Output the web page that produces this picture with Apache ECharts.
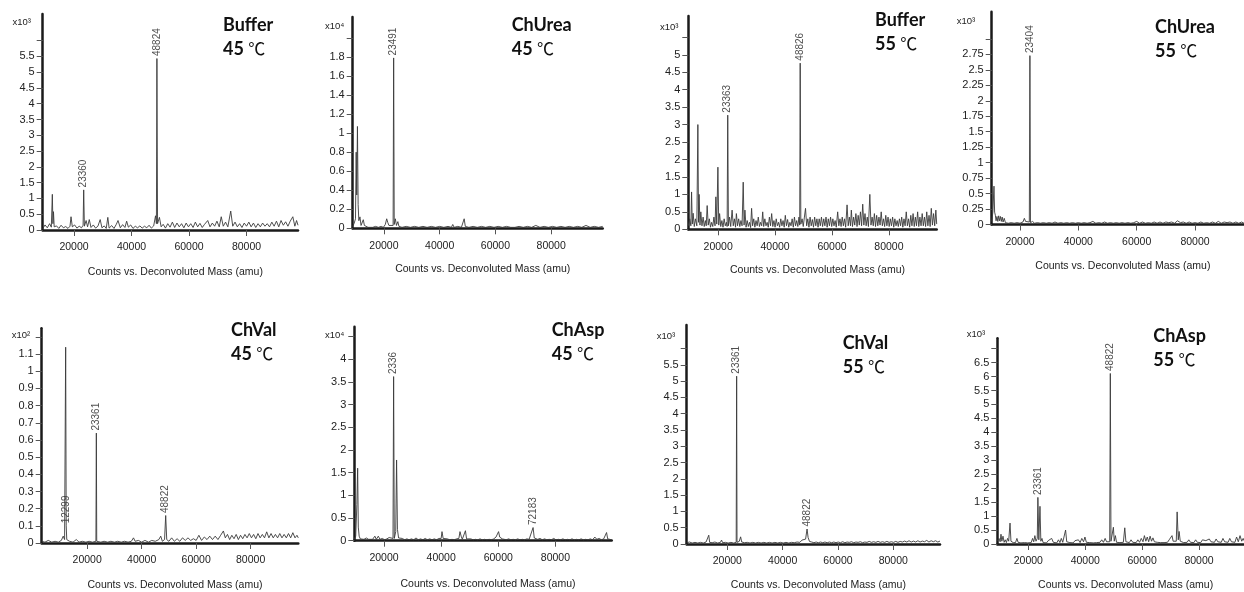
<!DOCTYPE html>
<html>
<head>
<meta charset="utf-8">
<script src="https://cdn.jsdelivr.net/npm/echarts@6/dist/echarts.min.js"></script>
<style>html,body{margin:0;padding:0;background:#fff}#c{width:1244px;height:592px}</style>
</head>
<body>
<div id="c"></div>
<script>
// ---------- DATA ----------
const panelNames = ['Buffer', 'ChUrea', 'Buffer', 'ChUrea', 'ChVal', 'ChAsp', 'ChVal', 'ChAsp'];
const panelTemps = ['45', '45', '55', '55', '45', '45', '55', '55'];
const tempUnit = '℃';
const scaleLabels = ['x10³', 'x10⁴', 'x10³', 'x10³', 'x10²', 'x10⁴', 'x10³', 'x10³'];
const xAxisTitle = 'Counts vs. Deconvoluted Mass (amu)';
const xTickValues = [20000, 40000, 60000, 80000];

const yLabelValues = [
  [0, 0.5, 1, 1.5, 2, 2.5, 3, 3.5, 4, 4.5, 5, 5.5],
  [0, 0.2, 0.4, 0.6, 0.8, 1, 1.2, 1.4, 1.6, 1.8],
  [0, 0.5, 1, 1.5, 2, 2.5, 3, 3.5, 4, 4.5, 5],
  [0, 0.25, 0.5, 0.75, 1, 1.25, 1.5, 1.75, 2, 2.25, 2.5, 2.75],
  [0, 0.1, 0.2, 0.3, 0.4, 0.5, 0.6, 0.7, 0.8, 0.9, 1, 1.1],
  [0, 0.5, 1, 1.5, 2, 2.5, 3, 3.5, 4],
  [0, 0.5, 1, 1.5, 2, 2.5, 3, 3.5, 4, 4.5, 5, 5.5],
  [0, 0.5, 1, 1.5, 2, 2.5, 3, 3.5, 4, 4.5, 5, 5.5, 6, 6.5]
];
const yTickValues = [
  [0, 0.5, 1, 1.5, 2, 2.5, 3, 3.5, 4, 4.5, 5, 5.5, 6],
  [0, 0.2, 0.4, 0.6, 0.8, 1, 1.2, 1.4, 1.6, 1.8, 2],
  [0, 0.5, 1, 1.5, 2, 2.5, 3, 3.5, 4, 4.5, 5, 5.5],
  [0, 0.25, 0.5, 0.75, 1, 1.25, 1.5, 1.75, 2, 2.25, 2.5, 2.75, 3],
  [0, 0.1, 0.2, 0.3, 0.4, 0.5, 0.6, 0.7, 0.8, 0.9, 1, 1.1, 1.2],
  [0, 0.5, 1, 1.5, 2, 2.5, 3, 3.5, 4, 4.5],
  [0, 0.5, 1, 1.5, 2, 2.5, 3, 3.5, 4, 4.5, 5, 5.5, 6],
  [0, 0.5, 1, 1.5, 2, 2.5, 3, 3.5, 4, 4.5, 5, 5.5, 6, 6.5, 7]
];

// labelled peaks: [mass, height (axis units), label text]
const buffer45Peaks = [[23360, 1.27, '23360'], [48824, 5.43, '48824']];
const chUrea45Peaks = [[23491, 1.79, '23491']];
const buffer55Peaks = [[23363, 3.27, '23363'], [48826, 4.76, '48826']];
const chUrea55Peaks = [[23404, 2.73, '23404']];
const chVal45Peaks = [[12299, 0.1, '12299'], [23361, 0.64, '23361'], [48822, 0.16, '48822']];
const chAsp45Peaks = [[23361, 3.62, '2336'], [72183, 0.29, '72183']];
const chVal55Peaks = [[23361, 5.15, '23361'], [48822, 0.46, '48822']];
const chAsp55Peaks = [[23361, 1.67, '23361'], [48822, 6.11, '48822']];

// rest of each spectrum: [mass, counts in axis units]
const buffer45 = [[9100,0.04],[9900,0.16],[10700,0.07],[11500,0.2],[12100,0.09],[12450,1.13],[12650,0.2],[12850,0.58],[13100,0.1],[13900,0.13],[14700,0.05],[15500,0.15],[16300,0.07],[17100,0.11],[17900,0.05],[18600,0.12],[18950,0.42],[19400,0.1],[20200,0.16],[21000,0.06],[21800,0.12],[22600,0.07],[23150,0.15],
[23600,0.12],[24200,0.3],[24700,0.1],[25300,0.33],[25900,0.08],[26700,0.16],[27500,0.06],[28300,0.12],[29100,0.33],[29700,0.07],[30500,0.13],[31200,0.05],[31750,0.4],[32200,0.06],[33100,0.14],[33900,0.05],[34700,0.18],[35300,0.3],[36100,0.07],[36900,0.17],[37700,0.08],[38300,0.28],[38900,0.09],[39700,0.16],[40500,0.05],[41300,0.12],[42100,0.07],[42900,0.13],[43700,0.06],[44500,0.12],[45300,0.07],[46100,0.15],[46900,0.06],[47700,0.13],[48350,0.45],[48650,0.2],
[49050,0.2],[49700,0.4],[50300,0.1],[51000,0.18],[51800,0.06],[52600,0.2],[53400,0.09],[54200,0.25],[55000,0.08],[55800,0.22],[56600,0.1],[57400,0.2],[58200,0.07],[59000,0.22],[59800,0.1],[60600,0.2],[61400,0.08],[62200,0.25],[63000,0.1],[63800,0.21],[64600,0.08],[65400,0.18],[66500,0.3],[67300,0.1],[68100,0.22],[68900,0.12],[69700,0.28],[70500,0.1],[71200,0.42],[71900,0.12],[72700,0.25],[73500,0.1],[74500,0.6],[75200,0.12],[76000,0.25],[76800,0.1],[77600,0.2],[78400,0.08],[79200,0.22],[80000,0.12],[80800,0.25],[81600,0.1],[82400,0.22],[83200,0.08],[84000,0.2],[84800,0.1],[85600,0.22],[86400,0.12],[87200,0.2],[88000,0.1],[88800,0.25],[89600,0.12],[90400,0.28],[91200,0.1],[92000,0.3],[92800,0.15],[93600,0.26],[94400,0.12],[95200,0.28],[96100,0.42],[96800,0.12],[97400,0.3],[97900,0.15]];

const chUrea45 = [[8800,0.02],[9300,0.05],[9800,0.1],[10050,0.8],[10250,0.35],[10500,1.07],[10750,0.25],[11000,0.08],[11400,0.12],[11800,0.03],[12200,0.05],[12600,0.09],[13000,0.03],[13600,0.04],[14300,0.01],[15000,0.02],[16000,0.01],[17000,0.02],[18000,0.01],[19000,0.02],[19800,0.01],[20500,0.04],[21000,0.1],[21400,0.06],[21800,0.03],[22400,0.02],[23300,0.03],
[23700,0.04],[24100,0.1],[24500,0.03],[25000,0.07],[25400,0.02],[26500,0.01],[28000,0.02],[29500,0.01],[31000,0.02],[32500,0.01],[34000,0.02],[35500,0.01],[37000,0.02],[38500,0.01],[40000,0.02],[41500,0.01],[43000,0.02],[44200,0.01],[44700,0.04],[45200,0.01],[46500,0.02],[47800,0.01],[48400,0.03],[48800,0.1],[49200,0.02],[50500,0.01],[52000,0.02],[53500,0.01],[55000,0.02],[56500,0.01],[58000,0.02],[59500,0.01],[61000,0.02],[62500,0.01],[64000,0.02],[65500,0.01],[66200,0.03],[67000,0.01],[68500,0.02],[70000,0.01],[71500,0.02],[73000,0.01],[74500,0.03],[76000,0.01],[77500,0.02],[79000,0.01],[80500,0.02],[82000,0.01],[83500,0.02],[85000,0.01],[86500,0.02],[88000,0.01],[89500,0.02],[91000,0.01],[92500,0.03],[94000,0.01],[95500,0.02],[97000,0.01],[98500,0.02]];

const buffer55 = [[9500,0.1],[10000,0.3],[10400,0.1],[10650,1.07],[10900,0.15],[11200,0.46],[11600,0.08],[12000,0.3],[12500,0.1],[12860,3.0],[13100,0.2],[13300,1.0],[13600,0.12],[13900,0.5],[14300,0.1],[14700,0.35],[15100,0.08],[15500,0.25],[15800,0.1],[16130,0.68],[16500,0.12],[16900,0.3],[17300,0.06],[17700,0.2],[18100,0.08],[18500,0.35],[18900,0.1],[19190,0.93],[19500,0.15],[19900,1.78],[20200,0.12],[20500,0.45],[20900,0.08],[21300,0.25],[21700,0.06],[22100,0.3],[22500,0.1],[22900,0.2],[23150,0.08],
[23600,0.1],[24000,0.35],[24400,0.08],[24900,0.55],[25300,0.1],[25700,0.3],[26100,0.06],[26400,0.45],[26800,0.1],[27200,0.3],[27600,0.08],[28000,0.25],[28400,0.1],[28800,1.35],[29100,0.12],[29400,0.55],[29800,0.06],[30200,0.25],[30600,0.08],[31000,0.2],[31400,0.05],[31750,0.6],[32100,0.1],[32500,0.3],[32900,0.06],[33300,0.25],[33700,0.1],[34100,0.35],[34500,0.08],[34900,0.2],[35300,0.1],[35650,0.5],[36000,0.08],[36400,0.3],[36800,0.1],[37200,0.2],[37600,0.06],[38000,0.35],[38400,0.1],[38800,0.45],[39200,0.08],[39600,0.25],[40000,0.06],[40400,0.3],[40800,0.1],[41200,0.2],[41600,0.06],[42000,0.3],[42400,0.1],[42800,0.25],[43200,0.06],[43600,0.4],[44000,0.1],[44400,0.28],[44800,0.06],[45200,0.2],[45600,0.1],[46000,0.3],[46400,0.06],[46800,0.35],[47200,0.1],[47600,0.25],[48000,0.08],[48400,0.35],[48650,0.12],
[49050,0.15],[49500,0.3],[49900,0.08],[50300,0.35],[50700,0.6],[51100,0.1],[51500,0.3],[51900,0.06],[52300,0.35],[52700,0.1],[53100,0.28],[53500,0.06],[53900,0.35],[54300,0.1],[54700,0.3],[55100,0.06],[55500,0.3],[55900,0.1],[56300,0.35],[56700,0.08],[57100,0.3],[57500,0.1],[57900,0.35],[58300,0.06],[58700,0.3],[59100,0.1],[59500,0.35],[59900,0.08],[60300,0.3],[60700,0.1],[61100,0.25],[61500,0.06],[62000,0.5],[62400,0.1],[62800,0.3],[63200,0.08],[63600,0.35],[64000,0.1],[64400,0.3],[64800,0.06],[65300,0.7],[65700,0.1],[66100,0.35],[66500,0.1],[66800,0.55],[67200,0.08],[67600,0.35],[68000,0.12],[68400,0.45],[68800,0.08],[69200,0.4],[69600,0.12],[70000,0.5],[70400,0.1],[70800,0.72],[71200,0.12],[71600,0.45],[72000,0.1],[72400,0.35],[72800,0.08],[73300,1.0],[73700,0.12],[74100,0.35],[74500,0.1],[74900,0.45],[75300,0.08],[75700,0.4],[76100,0.1],[76500,0.35],[76900,0.12],[77300,0.5],[77700,0.1],[78100,0.3],[78500,0.08],[78900,0.4],[79300,0.1],[79700,0.35],[80100,0.08],[80500,0.3],[80900,0.1],[81300,0.35],[81700,0.06],[82100,0.3],[82500,0.1],[82900,0.25],[83300,0.08],[83700,0.3],[84100,0.1],[84500,0.35],[84900,0.06],[85300,0.3],[85700,0.1],[86100,0.5],[86500,0.1],[86900,0.3],[87300,0.06],[87700,0.4],[88100,0.1],[88500,0.45],[88900,0.08],[89300,0.35],[89700,0.1],[90100,0.5],[90500,0.08],[90900,0.35],[91300,0.1],[91700,0.45],[92100,0.1],[92500,0.35],[92900,0.08],[93300,0.5],[93700,0.1],[94100,0.4],[94500,0.08],[94900,0.6],[95300,0.12],[95700,0.45],[96100,0.1],[96500,0.55],[96800,0.15]];

const chUrea55 = [[10300,0.05],[10700,0.2],[11080,0.62],[11300,0.2],[11550,0.15],[11800,0.06],[12100,0.13],[12400,0.05],[12700,0.14],[13000,0.06],[13300,0.13],[13600,0.05],[13900,0.12],[14200,0.04],[14600,0.1],[15000,0.03],[16000,0.02],[17000,0.03],[18000,0.02],[19000,0.03],[20000,0.02],[21000,0.04],[21500,0.1],[21900,0.05],[22400,0.03],[23200,0.04],
[23600,0.03],[24300,0.05],[25000,0.02],[26000,0.03],[27000,0.02],[28000,0.03],[29000,0.02],[30000,0.03],[31000,0.02],[32000,0.04],[33000,0.02],[34000,0.03],[35000,0.02],[36000,0.03],[37000,0.02],[38000,0.03],[39000,0.02],[40000,0.03],[41000,0.02],[42000,0.03],[43000,0.02],[44000,0.03],[45000,0.05],[46000,0.02],[47000,0.03],[48000,0.02],[49000,0.04],[50000,0.02],[51000,0.03],[52000,0.02],[53000,0.03],[54000,0.02],[55000,0.03],[56000,0.02],[57000,0.03],[58000,0.02],[59000,0.03],[60000,0.05],[61000,0.02],[62000,0.04],[63000,0.02],[64000,0.03],[65000,0.02],[66000,0.04],[67000,0.02],[68000,0.04],[69000,0.02],[70000,0.04],[71000,0.03],[72000,0.04],[73000,0.02],[74000,0.06],[75000,0.03],[76000,0.04],[77000,0.02],[78000,0.04],[79000,0.02],[80000,0.03],[81000,0.02],[82000,0.04],[83000,0.02],[84000,0.03],[85000,0.02],[86000,0.04],[87000,0.02],[88000,0.05],[89000,0.02],[90000,0.04],[91000,0.03],[92000,0.04],[93000,0.02],[94000,0.04],[95000,0.02],[96000,0.04],[96800,0.02]];

const chVal45 = [[3300,0.01],[4500,0.005],[5700,0.015],[7000,0.005],[8200,0.01],[9400,0.005],[10500,0.015],[11200,0.04],[11700,0.02],[12100,1.14],
[12500,0.02],[13500,0.01],[14800,0.005],[16000,0.02],[17000,0.005],[18200,0.01],[19500,0.005],[20700,0.01],[21900,0.005],[23200,0.01],
[23500,0.01],[25000,0.005],[26200,0.01],[27500,0.005],[28700,0.01],[30000,0.005],[31200,0.01],[32500,0.005],[33700,0.01],[35000,0.005],[36200,0.01],[37000,0.03],[37600,0.01],[38800,0.015],[40000,0.005],[41200,0.015],[42500,0.005],[43700,0.015],[45000,0.01],[46300,0.02],[47000,0.04],[47600,0.01],[48400,0.02],
[49200,0.02],[50000,0.01],[51000,0.03],[52000,0.01],[53000,0.025],[54000,0.01],[55000,0.03],[56000,0.015],[57000,0.03],[58000,0.015],[59000,0.025],[60000,0.015],[61000,0.045],[62000,0.015],[63000,0.035],[64000,0.02],[65000,0.04],[66000,0.02],[67000,0.04],[68000,0.02],[69000,0.045],[70000,0.07],[70700,0.03],[71500,0.05],[72300,0.02],[73100,0.045],[73900,0.025],[74700,0.05],[75500,0.02],[76300,0.045],[77100,0.025],[77900,0.05],[78700,0.03],[79500,0.055],[80300,0.03],[81100,0.05],[81900,0.025],[82700,0.055],[83500,0.03],[84300,0.05],[85100,0.03],[85900,0.065],[86700,0.03],[87500,0.055],[88300,0.03],[89100,0.05],[89900,0.03],[90700,0.055],[91500,0.03],[92300,0.05],[93100,0.03],[93900,0.055],[94700,0.03],[95500,0.06],[96300,0.03],[97000,0.045],[97500,0.03]];

const chAsp45 = [[9600,0.03],[10100,0.1],[10500,0.8],[10770,1.6],[11000,0.3],[11300,0.1],[11700,0.04],[12300,0.08],[13000,0.03],[13800,0.06],[14600,0.03],[15300,0.07],[16000,0.03],[16800,0.1],[17300,0.03],[18000,0.1],[18600,0.03],[19400,0.05],[20200,0.02],[21000,0.04],[21800,0.07],[22400,0.03],[23150,0.05],
[23600,0.05],[24100,0.2],[24400,1.78],[24700,0.25],[25100,0.06],[25600,0.03],[26400,0.05],[27200,0.02],[28000,0.04],[28800,0.02],[29600,0.04],[30400,0.02],[31200,0.06],[32000,0.02],[32800,0.04],[33600,0.02],[34400,0.05],[35200,0.02],[36000,0.04],[36800,0.02],[37600,0.04],[38400,0.02],[39200,0.05],[40000,0.05],[40300,0.2],[40700,0.05],[41400,0.02],[42200,0.04],[43000,0.02],[43800,0.03],[44600,0.02],[45400,0.04],[46200,0.05],[46600,0.2],[47000,0.1],[47400,0.03],[48100,0.05],[48500,0.22],[48900,0.04],[49600,0.02],[50400,0.04],[51200,0.02],[52000,0.03],[52800,0.02],[53600,0.04],[54400,0.02],[55200,0.03],[56000,0.02],[56800,0.03],[57600,0.02],[58400,0.04],[59200,0.08],[59700,0.04],[60100,0.2],[60500,0.08],[61000,0.1],[61400,0.04],[62000,0.06],[62800,0.02],[63600,0.04],[64400,0.02],[65200,0.03],[66000,0.02],[66800,0.04],[67600,0.02],[68400,0.03],[69200,0.02],[70000,0.04],[70800,0.03],[71500,0.06],
[72600,0.06],[73000,0.04],[73800,0.03],[74600,0.05],[75400,0.02],[76200,0.04],[77000,0.02],[77800,0.03],[78600,0.02],[79400,0.05],[80200,0.02],[81000,0.03],[81800,0.02],[82600,0.04],[83400,0.02],[84200,0.03],[85000,0.02],[85800,0.04],[86600,0.02],[87400,0.03],[88200,0.02],[89000,0.04],[89800,0.02],[90600,0.03],[91400,0.02],[92200,0.04],[93000,0.02],[93800,0.08],[94500,0.03],[95300,0.05],[96100,0.02],[96900,0.04],[97500,0.05],[97900,0.18],[98300,0.04],[99000,0.03],[99700,0.02]];

const chVal55 = [[5300,0.04],[6300,0.06],[7300,0.03],[8300,0.05],[9300,0.03],[10300,0.05],[11300,0.03],[12300,0.06],[12900,0.04],[13280,0.27],[13600,0.05],[14500,0.04],[15500,0.06],[16500,0.03],[17500,0.05],[17900,0.12],[18300,0.04],[19300,0.05],[20300,0.03],[21300,0.05],[22300,0.03],[23200,0.05],
[23500,0.05],[24300,0.08],[24800,0.22],[25200,0.06],[26200,0.04],[27200,0.05],[28200,0.03],[29200,0.05],[30200,0.03],[31200,0.05],[32200,0.03],[33200,0.05],[34200,0.03],[35200,0.05],[36200,0.03],[37200,0.05],[38200,0.03],[39200,0.05],[40200,0.03],[41200,0.05],[42200,0.03],[43200,0.05],[44200,0.04],[45200,0.06],[46200,0.05],[47000,0.12],[47600,0.08],[48300,0.15],
[49200,0.2],[49700,0.08],[50500,0.06],[51300,0.04],[52100,0.06],[52900,0.04],[53700,0.06],[54500,0.04],[55300,0.06],[56100,0.04],[56900,0.06],[57700,0.04],[58500,0.06],[59300,0.04],[60100,0.06],[60900,0.04],[61700,0.07],[62500,0.04],[63300,0.06],[64100,0.05],[64900,0.07],[65700,0.04],[66500,0.06],[67300,0.05],[68100,0.07],[68900,0.04],[69700,0.06],[70500,0.05],[71300,0.08],[72100,0.05],[72900,0.07],[73700,0.05],[74500,0.08],[75300,0.05],[76100,0.07],[76900,0.05],[77700,0.08],[78500,0.05],[79300,0.07],[80100,0.05],[80900,0.08],[81700,0.05],[82500,0.08],[83300,0.06],[84100,0.09],[84900,0.06],[85700,0.1],[86500,0.06],[87300,0.09],[88100,0.06],[88900,0.1],[89700,0.06],[90500,0.09],[91300,0.07],[92100,0.11],[92900,0.06],[93700,0.1],[94500,0.07],[95300,0.1],[96100,0.06],[96900,0.09]];

const chAsp55 = [[9100,0.1],[9700,0.2],[10100,0.08],[10400,0.35],[10700,0.1],[11100,0.28],[11500,0.06],[11900,0.15],[12300,0.05],[12700,0.2],[13100,0.1],[13570,0.75],[13900,0.1],[14300,0.15],[14700,0.05],[15100,0.12],[15500,0.05],[16000,0.2],[16400,0.06],[16900,0.1],[17400,0.04],[18000,0.1],[18600,0.05],[19200,0.08],[19800,0.04],[20400,0.1],[21000,0.05],[21500,0.2],[21900,0.08],[22300,0.3],[22700,0.1],[23150,0.2],
[23700,0.15],[24100,1.35],[24400,0.1],[24800,0.2],[25200,0.05],[25800,0.1],[26400,0.04],[27000,0.12],[27600,0.05],[28200,0.2],[28800,0.06],[29400,0.1],[30000,0.04],[30600,0.15],[31100,0.05],[31600,0.2],[32100,0.06],[32600,0.12],[33100,0.5],[33500,0.08],[34000,0.12],[34600,0.05],[35200,0.1],[35800,0.04],[36400,0.12],[37000,0.06],[37600,0.15],[38200,0.05],[38800,0.2],[39400,0.08],[39900,0.25],[40400,0.06],[41000,0.12],[41600,0.05],[42200,0.1],[42800,0.04],[43400,0.1],[44000,0.05],[44600,0.12],[45200,0.06],[45800,0.15],[46400,0.06],[47000,0.2],[47500,0.08],[48000,0.15],[48600,0.08],
[49050,0.1],[49900,0.6],[50200,0.1],[50600,0.3],[51000,0.06],[51600,0.12],[52200,0.05],[52800,0.1],[53400,0.06],[53900,0.58],[54300,0.08],[54900,0.12],[55500,0.05],[56100,0.15],[56700,0.06],[57300,0.12],[57900,0.05],[58500,0.15],[59100,0.06],[59700,0.2],[60300,0.08],[60800,0.3],[61300,0.1],[61800,0.25],[62300,0.08],[62800,0.28],[63300,0.1],[63800,0.22],[64300,0.08],[64800,0.15],[65300,0.06],[65900,0.12],[66500,0.05],[67100,0.1],[67700,0.05],[68300,0.12],[68900,0.06],[69500,0.15],[70000,0.1],[70500,0.3],[70900,0.1],[71400,0.15],[72000,0.1],[72300,1.15],[72700,0.15],[73000,0.45],[73400,0.1],[74000,0.15],[74600,0.05],[75200,0.12],[75800,0.06],[76400,0.15],[77000,0.06],[77600,0.12],[78200,0.05],[78800,0.15],[79400,0.06],[80000,0.12],[80600,0.05],[81200,0.15],[81800,0.08],[82400,0.12],[83000,0.06],[83600,0.18],[84200,0.08],[84800,0.15],[85400,0.06],[86000,0.18],[86600,0.08],[87200,0.15],[87800,0.06],[88400,0.2],[89000,0.08],[89600,0.15],[90200,0.06],[90800,0.2],[91400,0.08],[92000,0.15],[92600,0.06],[93200,0.25],[93800,0.08],[94400,0.3],[95000,0.1],[95500,0.2],[95800,0.12]];

const spectra = [buffer45, chUrea45, buffer55, chUrea55, chVal45, chAsp45, chVal55, chAsp55];
const peaks = [buffer45Peaks, chUrea45Peaks, buffer55Peaks, chUrea55Peaks, chVal45Peaks, chAsp45Peaks, chVal55Peaks, chAsp55Peaks];

// ---------- LAYOUT (pixels / axis ranges) ----------
const layout = [
  {l: 42.7, t: 14, r: 298, b: 230, xMin: 9100, xMax: 97900, yMax: 6.84, tl: 223, tt: 13, sl: 12.5, st: 17, ng: 37},
  {l: 352.7, t: 17, r: 602.7, b: 228.3, xMin: 8800, xMax: 98500, yMax: 2.22, tl: 511.7, tt: 13, sl: 325, st: 21, ng: 35},
  {l: 688.3, t: 16, r: 936.7, b: 229.3, xMin: 9500, xMax: 96800, yMax: 6.11, tl: 875, tt: 8, sl: 660, st: 22, ng: 35},
  {l: 991.7, t: 11.7, r: 1244, b: 224.5, xMin: 10300, xMax: 96800, yMax: 3.44, tl: 1155, tt: 14.7, sl: 956.7, st: 16, ng: 36},
  {l: 41.7, t: 328.3, r: 298.3, b: 545, xMin: 3300, xMax: 97500, yMax: 1.25, tl: 231, tt: 318, sl: 11.7, st: 330, ng: 37},
  {l: 354.3, t: 326.7, r: 611.7, b: 540.7, xMin: 9600, xMax: 99700, yMax: 4.72, tl: 551.7, tt: 318, sl: 325, st: 330.5, ng: 38},
  {l: 686.7, t: 325, r: 940, b: 544, xMin: 5300, xMax: 96900, yMax: 6.72, tl: 842.7, tt: 330.7, sl: 656.7, st: 331.5, ng: 36},
  {l: 997.3, t: 338.3, r: 1244, b: 544, xMin: 9100, xMax: 95800, yMax: 7.37, tl: 1153.3, tt: 324, sl: 966.7, st: 329, ng: 36}
];

const FONT = 'Liberation Sans, Arial, sans-serif';
const axisColor = '#1a1a1a';
const grid = [], xAxis = [], yAxis = [], series = [], title = [];

layout.forEach((L, i) => {
  grid.push({left: L.l, top: L.t, width: L.r - L.l, height: L.b - L.t, containLabel: false});
  xAxis.push({
    type: 'value', gridIndex: i, min: L.xMin, max: L.xMax,
    splitLine: {show: false},
    axisLine: {show: true, onZero: false, lineStyle: {color: axisColor, width: 2.5}},
    axisTick: {show: true, customValues: xTickValues, length: 6, lineStyle: {color: '#555', width: 1}},
    axisLabel: {customValues: xTickValues, margin: 12, fontSize: 10.5, fontFamily: FONT, color: '#222',
      formatter: v => String(v)},
    name: xAxisTitle, nameLocation: 'middle', nameGap: L.ng,
    nameTextStyle: {fontSize: 10.5, fontFamily: FONT, color: '#222', padding: [0, 0, 0, 10]}
  });
  yAxis.push({
    type: 'value', gridIndex: i, min: 0, max: L.yMax,
    splitLine: {show: false},
    axisLine: {show: true, lineStyle: {color: axisColor, width: 2.5}},
    axisTick: {show: true, customValues: yTickValues[i], length: 6, lineStyle: {color: '#555', width: 1}},
    axisLabel: {customValues: yLabelValues[i], margin: 8, fontSize: 11, fontFamily: FONT, color: '#222',
      formatter: v => String(+(+v).toFixed(3))}
  });
  const pts = spectra[i].concat(peaks[i].map(p => [p[0], p[1]])).sort((a, b) => a[0] - b[0]);
  series.push({
    type: 'line', xAxisIndex: i, yAxisIndex: i, data: pts,
    showSymbol: false, symbol: 'none', silent: true, animation: false,
    lineStyle: {color: '#3a3a3a', width: 0.9}
  });
  series.push({
    type: 'scatter', xAxisIndex: i, yAxisIndex: i, silent: true, animation: false,
    symbolSize: 1, itemStyle: {color: 'rgba(0,0,0,0)'},
    data: peaks[i].map(p => ({name: p[2], value: [p[0], p[1]]})),
    label: {show: true, formatter: '{b}', position: 'top', distance: 2, rotate: 90,
      align: 'left', verticalAlign: 'middle', fontSize: 10, fontFamily: FONT, color: '#222'}
  });
  title.push({
    left: L.tl, top: L.tt, padding: 0,
    text: '{a|' + panelNames[i] + '}\n{a|' + panelTemps[i] + ' }{b|' + tempUnit + '}',
    textStyle: {rich: {
      a: {fontFamily: 'Lato', fontWeight: 'bold', fontSize: 18, lineHeight: 24, color: '#111'},
      b: {fontFamily: 'Noto Sans CJK SC', fontWeight: 'normal', fontSize: 17, lineHeight: 24, color: '#111'}
    }}
  });
  title.push({
    left: L.sl, top: L.st, padding: 0, text: scaleLabels[i],
    textStyle: {fontFamily: FONT, fontWeight: 'normal', fontSize: 9.5, color: '#222'}
  });
});

const chart = echarts.init(document.getElementById('c'), null, {renderer: 'canvas'});
chart.setOption({backgroundColor: '#fff', animation: false, title, grid, xAxis, yAxis, series});
</script>
</body>
</html>
